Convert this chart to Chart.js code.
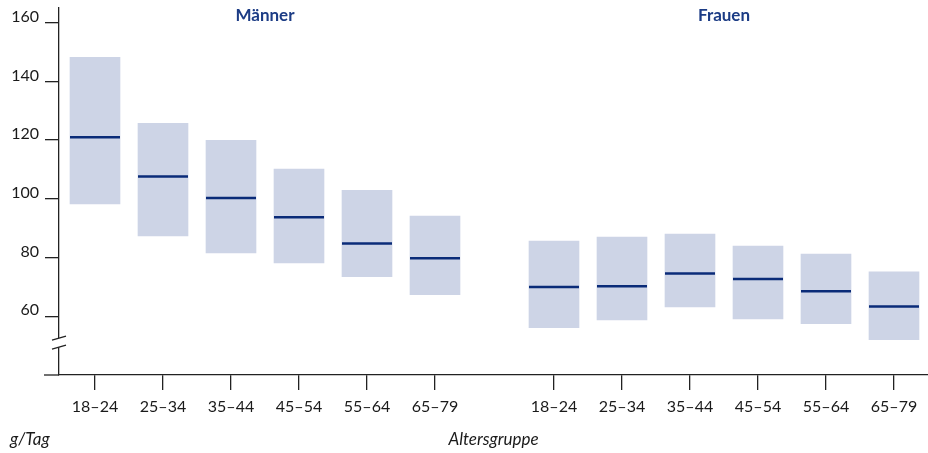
<!DOCTYPE html>
<html>
<head>
<meta charset="utf-8">
<script src="https://cdn.jsdelivr.net/npm/chart.js@4.4.1/dist/chart.umd.min.js"></script>
<style>
  html, body { margin: 0; padding: 0; background: #fff; }
  #wrap { width: 928px; height: 453px; position: relative; }
</style>
</head>
<body>
<div id="wrap"><canvas id="c"></canvas></div>
<script>
// ---- data ----
const categories = ['18–24', '25–34', '35–44', '45–54', '55–64', '65–79'];
const groups = ['Männer', 'Frauen'];
const menLow    = [98.3, 87.4, 81.6, 78.2, 73.5, 67.4];
const menHigh   = [148.2, 125.7, 119.9, 110.1, 102.9, 94.1];
const menMedian = [121.0, 107.6, 100.3, 93.7, 84.8, 79.8];
const womenLow    = [56.1, 58.8, 63.2, 59.1, 57.5, 52.0];
const womenHigh   = [85.6, 87.0, 88.0, 83.9, 81.2, 75.1];
const womenMedian = [70.0, 70.2, 74.6, 72.7, 68.5, 63.3];
const yTicks = [60, 80, 100, 120, 140, 160];
const yUnit = 'g/Tag';
const xTitle = 'Altersgruppe';

// ---- layout constants ----
const GROUP_OFFSET = 6.75;   // distance (in slots) from first men slot to first women slot
const BREAK_VALUE = 51.5;
const BOX_FILL = '#CDD4E6';
const MEDIAN_COLOR = '#0A2B78';
const TITLE_COLOR = '#1C3C85';
const AXIS_COLOR = '#222222';
const TEXT_COLOR = '#1a1a1a';
const FONT = 'Lato, "Open Sans", sans-serif';

const menPos = categories.map((c, i) => i + 1);
const womenPos = categories.map((c, i) => i + 1 + GROUP_OFFSET);
const allPos = menPos.concat(womenPos);
const allLabels = categories.concat(categories);

const boxData = menPos.map((x, i) => ({ x, y: [menLow[i], menHigh[i]] }))
  .concat(womenPos.map((x, i) => ({ x, y: [womenLow[i], womenHigh[i]] })));
const medianData = menPos.map((x, i) => ({ x, y: menMedian[i] }))
  .concat(womenPos.map((x, i) => ({ x, y: womenMedian[i] })));

const decor = {
  id: 'decor',
  afterDraw(chart) {
    const ctx = chart.ctx;
    const ca = chart.chartArea;
    const xs = chart.scales.x, ys = chart.scales.y;
    ctx.save();
    // x-axis extension to the left
    ctx.strokeStyle = AXIS_COLOR;
    ctx.lineWidth = 1.3;
    ctx.beginPath();
    ctx.moveTo(ca.left - 15, ca.bottom);
    ctx.lineTo(ca.left, ca.bottom);
    ctx.stroke();
    // axis break marker
    const by = ys.getPixelForValue(BREAK_VALUE);
    ctx.fillStyle = '#fff';
    ctx.beginPath();
    ctx.moveTo(ca.left - 7, by - 1);
    ctx.lineTo(ca.left + 7, by - 5);
    ctx.lineTo(ca.left + 7, by + 4);
    ctx.lineTo(ca.left - 7, by + 8);
    ctx.closePath();
    ctx.fill();
    ctx.beginPath();
    ctx.moveTo(ca.left - 7, by - 1);
    ctx.lineTo(ca.left + 7, by - 5);
    ctx.moveTo(ca.left - 7, by + 8);
    ctx.lineTo(ca.left + 7, by + 4);
    ctx.stroke();
    // group titles
    ctx.fillStyle = TITLE_COLOR;
    ctx.font = 'bold 17px ' + FONT;
    ctx.textAlign = 'center';
    ctx.textBaseline = 'middle';
    const mc = (xs.getPixelForValue(menPos[0]) + xs.getPixelForValue(menPos[menPos.length - 1])) / 2;
    const wc = (xs.getPixelForValue(womenPos[0]) + xs.getPixelForValue(womenPos[womenPos.length - 1])) / 2;
    ctx.fillText(groups[0], mc, 16);
    ctx.fillText(groups[1], wc, 16);
    // unit label
    ctx.fillStyle = TEXT_COLOR;
    ctx.font = 'italic 17px ' + FONT;
    ctx.textAlign = 'left';
    ctx.fillText(yUnit, 10, 440);
    ctx.restore();
  }
};

new Chart(document.getElementById('c'), {
  type: 'bar',
  data: {
    datasets: [
      {
        type: 'line',
        data: medianData,
        showLine: false,
        pointStyle: 'line',
        pointRadius: 25,
        pointHoverRadius: 25,
        pointBorderWidth: 2.5,
        borderColor: MEDIAN_COLOR,
        backgroundColor: MEDIAN_COLOR,
        clip: false,
        order: 0
      },
      {
        type: 'bar',
        data: boxData,
        backgroundColor: BOX_FILL,
        borderWidth: 0,
        barThickness: 50,
        order: 1
      }
    ]
  },
  options: {
    responsive: true,
    maintainAspectRatio: false,
    animation: false,
    events: [],
    layout: { autoPadding: false, padding: { top: 8, left: 0, right: 0, bottom: 0 } },
    plugins: { legend: { display: false }, tooltip: { enabled: false } },
    scales: {
      x: {
        type: 'linear',
        min: 0.4706,
        max: 13.25,
        offset: false,
        afterBuildTicks: (scale) => { scale.ticks = allPos.map(v => ({ value: v })); },
        afterFit: (scale) => { scale.height = 78; scale.paddingLeft = 0; scale.paddingRight = 0; },
        ticks: {
          autoSkip: false,
          maxRotation: 0,
          padding: 7,
          color: TEXT_COLOR,
          font: { family: FONT, size: 16 },
          callback: (v, i) => allLabels[i]
        },
        grid: { offset: false, drawOnChartArea: false, drawTicks: true, tickLength: 15, color: AXIS_COLOR, lineWidth: 1.3 },
        border: { display: true, color: AXIS_COLOR, width: 1.3 },
        title: {
          display: true,
          text: xTitle,
          color: TEXT_COLOR,
          font: { family: FONT, size: 17, style: 'italic' },
          padding: { top: 0, bottom: 3 }
        }
      },
      y: {
        min: 40,
        max: 165,
        afterBuildTicks: (scale) => { scale.ticks = yTicks.map(v => ({ value: v })); },
        afterFit: (scale) => { scale.width = 59; scale.paddingTop = 0; scale.paddingBottom = 0; },
        ticks: {
          padding: 6,
          labelOffset: -6,
          color: TEXT_COLOR,
          font: { family: FONT, size: 16 }
        },
        grid: { drawOnChartArea: false, drawTicks: true, tickLength: 14, color: AXIS_COLOR, lineWidth: 1.3 },
        border: { display: true, color: AXIS_COLOR, width: 1.3 }
      }
    }
  },
  plugins: [decor]
});
</script>
</body>
</html>
